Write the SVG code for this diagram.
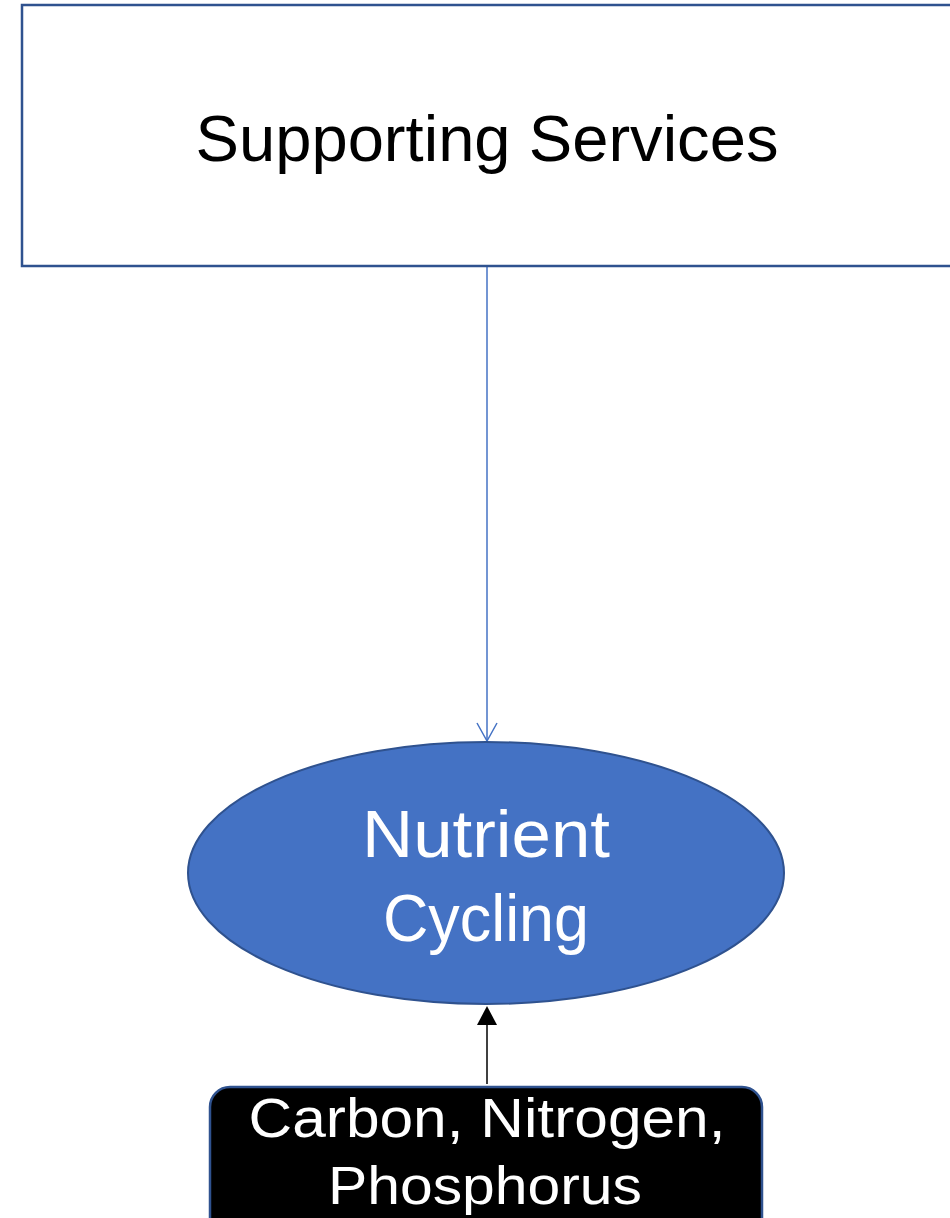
<svg xmlns="http://www.w3.org/2000/svg" width="950" height="1218" viewBox="0 0 950 1218">
<defs>
<style>
.lbl{font-family:"Liberation Sans","Open Sans",sans-serif;text-anchor:middle}
</style>
</defs>
<rect width="950" height="1218" fill="#ffffff"/>
<g id="connectors">
<line x1="487" y1="266" x2="487" y2="741" stroke="#4472C4" stroke-width="1.5"/>
<path d="M477,723 L487,741 L497,723" fill="none" stroke="#4472C4" stroke-width="1.5"/>
<line x1="487" y1="1084" x2="487" y2="1024" stroke="#000" stroke-width="1.5"/>
<path d="M487,1006 L477,1025 L497,1025 Z" fill="#000"/>
</g>
<g id="supporting-services">
<rect x="22" y="5" width="940" height="261" fill="#fff" stroke="#2F528F" stroke-width="2.5"/>
<text class="lbl" x="487" y="161" font-size="64" textLength="583" lengthAdjust="spacingAndGlyphs" fill="#000">Supporting Services</text>
</g>
<g id="nutrient-cycling">
<ellipse cx="486" cy="873" rx="298" ry="131" fill="#4472C4" stroke="#2F528F" stroke-width="2"/>
<text class="lbl" x="486" y="857" font-size="66" textLength="248" lengthAdjust="spacingAndGlyphs" fill="#fff">Nutrient</text>
<text class="lbl" x="486" y="941" font-size="66" textLength="206" lengthAdjust="spacingAndGlyphs" fill="#fff">Cycling</text>
</g>
<g id="elements">
<rect x="210" y="1087" width="552" height="160" rx="20" fill="#000" stroke="#2F528F" stroke-width="2.5"/>
<text class="lbl" x="487" y="1137" font-size="56" textLength="477" lengthAdjust="spacingAndGlyphs" fill="#fff">Carbon, Nitrogen,</text>
<text class="lbl" x="485" y="1204" font-size="54" textLength="314" lengthAdjust="spacingAndGlyphs" fill="#fff">Phosphorus</text>
</g>
</svg>
